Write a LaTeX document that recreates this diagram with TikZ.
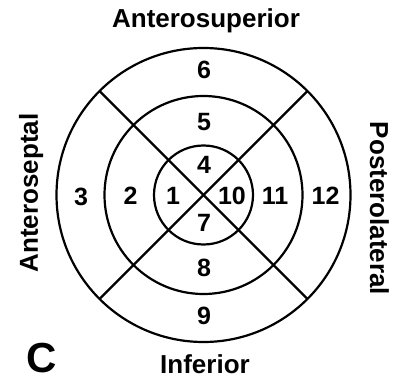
\documentclass[tikz,border=0pt]{standalone}
\usepackage{fontspec}
\setmainfont{Liberation Sans}

\tikzset{
  segnum/.style={font=\fontsize{25}{30}\selectfont\bfseries},
  wallname/.style={font=\fontsize{26}{31}\selectfont\bfseries,anchor=base}
}

\begin{document}
\begin{tikzpicture}[x=1pt,y=1pt,line width=2.2pt]
  \useasboundingbox (-203.5,-190) rectangle (202.5,195);
  % rings and the two diagonals
  \foreach \r in {49.5,99,147}
    \draw (0,0) circle (\r);
  \draw (135:147) -- (-45:147);
  \draw (45:147) -- (-135:147);
  % segment numbers
  \foreach \x/\y/\n in {0.5/125/6,0.5/73/5,0.5/30/4,-30.5/-0.5/1,28.5/-0.5/10,71.5/-0.5/11,122/-0.5/12,-122.5/-1.5/3,-73/-1/2,0.5/-28/7,0.5/-72.5/8,0.5/-121/9}
    \node[segnum] (seg\n) at (\x,\y) {\n};
  % wall names
  \node[wallname] (antsup) at (2.5,167) {Anterosuperior};
  \node[wallname] (inf) at (1.5,-178) {Inferior};
  \node[wallname,rotate=90] (antsep) at (-165.5,2) {Anteroseptal};
  \node[wallname,rotate=-90] (postlat) at (166.5,-13.5) {Posterolateral};
  \node[font=\fontsize{42}{48}\selectfont\bfseries] (panel) at (-161.5,-163) {C};
\end{tikzpicture}
\end{document}
